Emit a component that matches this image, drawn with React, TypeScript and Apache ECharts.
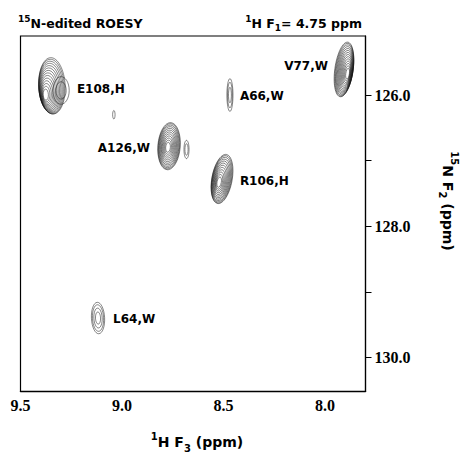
import React, { useEffect, useRef } from "react";
import * as echarts from "echarts";

// Peak (cross-peak) table, ppm units
const peakNames = ["E108", "E108b", "V77", "A66", "tiny", "A126", "A126b", "R106", "L64"];
const peakX = [9.345, 9.3, 7.906, 8.468, 9.04, 8.768, 8.682, 8.507, 9.118];
const peakY = [125.86, 125.93, 125.61, 126.0, 126.3, 126.78, 126.83, 127.28, 129.4];
const peakW = [0.13, 0.08, 0.09, 0.03, 0.012, 0.11, 0.025, 0.1, 0.065];
const peakH = [0.86, 0.42, 0.84, 0.5, 0.13, 0.72, 0.28, 0.76, 0.48];
const peakLevels = [14, 2, 14, 3, 1, 12, 2, 12, 4];
const peakCoreDx = [0.035, 0, -0.022, 0, 0, 0.005, 0, 0.012, 0];
const peakCoreDy = [0.14, 0, 0.06, 0, 0, 0.02, 0, 0.06, 0];
const peakTilt = [0.05, 0, -0.14, 0, 0, -0.08, 0, -0.18, 0.05];

// Assignment labels
const labelNames = ["E108,H", "A66,W", "V77,W", "A126,W", "R106,H", "L64,W"];
const labelX = [9.222, 8.419, 7.985, 8.862, 8.419, 9.044];
const labelY = [125.91, 126.01, 125.56, 126.8, 127.31, 129.42];
const labelAlign = ["left", "left", "right", "right", "left", "left"];

// Axis ticks
const xLabelValues = [9.5, 9.0, 8.5, 8.0];
const yTickValues = [126, 127, 128, 129, 130];
const yLabelValues = [126, 128, 130];

const SANS = "DejaVu Sans";
const SERIF = "Liberation Serif";

export default function App() {
  const ref = useRef<HTMLDivElement>(null);
  useEffect(() => {
    if (!ref.current) return;
    const chart = echarts.init(ref.current, null, { renderer: "svg" });
    const peakData = peakX.map((x, i) => [
      x,
      peakY[i],
      peakW[i],
      peakH[i],
      peakLevels[i],
      peakCoreDx[i],
      peakCoreDy[i],
      peakTilt[i],
    ]);
    const labelData = labelX.map((x, i) => ({ value: [x, labelY[i]], name: labelNames[i], align: labelAlign[i] }));

    const titleRich = {
      sup: { fontFamily: SANS, fontWeight: "bold", fontSize: 9, verticalAlign: "top", lineHeight: 10, fill: "#000" },
      sub: { fontFamily: SANS, fontWeight: "bold", fontSize: 9, verticalAlign: "bottom", lineHeight: 10, fill: "#000" },
      m: { fontFamily: SANS, fontWeight: "bold", fontSize: 12.5, lineHeight: 18, fill: "#000" },
    };
    const nameRich = {
      sup: { fontFamily: SANS, fontWeight: "bold", fontSize: 10, verticalAlign: "top", lineHeight: 12, fill: "#000" },
      sub: { fontFamily: SANS, fontWeight: "bold", fontSize: 10, verticalAlign: "bottom", lineHeight: 12, fill: "#000" },
      m: { fontFamily: SANS, fontWeight: "bold", fontSize: 14, lineHeight: 22, fill: "#000" },
    };

    chart.setOption({
      animation: false,
      grid: {
        left: 20.5,
        right: 95.5,
        top: 36,
        bottom: 63.5,
        show: true,
        borderColor: "#000",
        borderWidth: 1.2,
        backgroundColor: "transparent",
      },
      xAxis: {
        type: "value",
        min: 7.8,
        max: 9.5,
        inverse: true,
        axisLine: { show: true, lineStyle: { color: "#000", width: 1.4 } },
        axisTick: { show: false },
        splitLine: { show: false },
        axisLabel: {
          customValues: xLabelValues,
          formatter: (v: number) => v.toFixed(1),
          color: "#000",
          fontFamily: SERIF,
          fontWeight: "bold",
          fontSize: 16,
          margin: 6,
        },
      },
      yAxis: {
        type: "value",
        position: "right",
        min: 125.1,
        max: 130.52,
        inverse: true,
        axisLine: { show: true, lineStyle: { color: "#000", width: 1.2 } },
        axisTick: { show: true, customValues: yTickValues, length: 6, lineStyle: { color: "#000", width: 1 } },
        splitLine: { show: false },
        axisLabel: {
          customValues: yLabelValues,
          formatter: (v: number) => v.toFixed(1),
          color: "#000",
          fontFamily: SERIF,
          fontWeight: "bold",
          fontSize: 16,
          margin: 9,
        },
      },
      graphic: [
        {
          type: "text",
          left: 18,
          top: 14,
          style: { text: "{sup|15}{m|N-edited ROESY}", fill: "#000", rich: titleRich },
        },
        {
          type: "text",
          right: 99,
          top: 14,
          style: { text: "{sup|1}{m|H F}{sub|1}{m|= 4.75 ppm}", fill: "#000", rich: titleRich },
        },
        {
          type: "text",
          x: 197,
          y: 442,
          style: {
            text: "{sup|1}{m|H F}{sub|3}{m| (ppm)}",
            align: "center",
            verticalAlign: "middle",
            textAlign: "center",
            textVerticalAlign: "middle",
            fill: "#000",
            rich: nameRich,
          },
        },
        {
          type: "text",
          x: 448,
          y: 201,
          rotation: -Math.PI / 2,
          style: {
            text: "{sup|15}{m|N F}{sub|2}{m| (ppm)}",
            align: "center",
            verticalAlign: "middle",
            textAlign: "center",
            textVerticalAlign: "middle",
            fill: "#000",
            rich: nameRich,
          },
        },
      ],
      series: [
        {
          type: "custom",
          coordinateSystem: "cartesian2d",
          clip: true,
          encode: { x: 0, y: 1 },
          data: peakData,
          renderItem: (params: any, api: any) => {
            const x = api.value(0);
            const y = api.value(1);
            const w = api.value(2);
            const h = api.value(3);
            const n = api.value(4);
            const cdx = api.value(5);
            const cdy = api.value(6);
            const tilt = api.value(7);
            const c = api.coord([x, y]);
            const core = api.coord([x + cdx, y + cdy]);
            const sz = api.size([w, h]);
            const children: any[] = [];
            for (let i = 0; i < n; i++) {
              const t = n > 1 ? i / n : 0;
              const f = 1 - 0.88 * Math.pow(t, 1.25);
              const ox = (core[0] - c[0]) * t;
              const oy = (core[1] - c[1]) * t;
              children.push({
                type: "ellipse",
                shape: { cx: ox, cy: oy, rx: Math.max(0.8, (sz[0] / 2) * f), ry: Math.max(1, (sz[1] / 2) * f) },
                style: { fill: "none", stroke: "#111", lineWidth: 0.5 },
              });
            }
            return { type: "group", x: c[0], y: c[1], rotation: tilt, children };
          },
          silent: true,
          z: 2,
        },
        {
          type: "custom",
          coordinateSystem: "cartesian2d",
          encode: { x: 0, y: 1 },
          data: labelData,
          renderItem: (params: any, api: any) => {
            const p = api.coord([api.value(0), api.value(1)]);
            const item = labelData[params.dataIndex];
            return {
              type: "text",
              x: p[0],
              y: p[1],
              style: {
                text: item.name,
                fill: "#000",
                fontFamily: SANS,
                fontWeight: "bold",
                fontSize: 12,
                align: item.align,
                verticalAlign: "middle",
                textAlign: item.align,
                textVerticalAlign: "middle",
              },
            };
          },
          silent: true,
          z: 3,
        },
      ],
    });
    return () => chart.dispose();
  }, []);
  return (
    <div
      ref={ref}
      style={{ position: "fixed", left: 0, top: 0, width: 461, height: 455, background: "#fff" }}
    />
  );
}
